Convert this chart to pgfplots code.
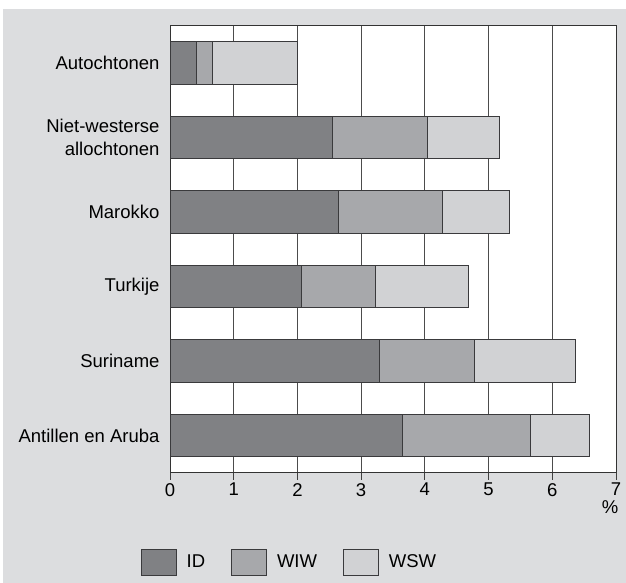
\documentclass[border=0pt]{standalone}
\usepackage{fontspec}
\setmainfont{Liberation Sans}
\usepackage{pgfplots}
\pgfplotsset{compat=1.18}
\definecolor{bg}{HTML}{DCDDDF}
\definecolor{cID}{HTML}{808184}
\definecolor{cWIW}{HTML}{A7A8AB}
\definecolor{cWSW}{HTML}{D1D2D4}
\definecolor{edge}{HTML}{3A3A3C}
\newcommand{\lbfont}{\fontsize{18.5}{23}\selectfont}
\begin{document}
\begin{tikzpicture}
\fill[white] (0pt,0pt) rectangle (626pt,583pt);
\fill[bg] (3pt,0pt) rectangle (626pt,574pt);
\begin{axis}[
  at={(170pt,110.3pt)}, anchor=south west,
  scale only axis, width=446pt, height=447pt,
  xmin=0, xmax=7, ymin=-0.5, ymax=5.5, y dir=reverse,
  xbar stacked, bar width=42.7pt,
  xtick={0,1,2,3,4,5,6,7}, ytick={0,1,2,3,4,5},
  xtick pos=lower, ytick pos=left,
  yticklabels={Autochtonen, {Niet-westerse\\allochtonen}, Marokko, Turkije, Suriname, Antillen en Aruba},
  yticklabel style={align=right},
  font=\lbfont,
  tick label style={font=\lbfont},
  /pgf/number format/assume math mode=true,
  tick align=outside, major tick length=7pt,
  ytick style={draw=none},
  xtick style={line width=0.8pt, draw=black!75},
  xmajorgrids, major grid style={line width=0.8pt, draw=black!70},
  axis line style={line width=0.8pt, draw=black!80},
  axis background/.style={fill=white},
  legend style={at={(0.268,-0.1998)}, anchor=center, draw=none, fill=none,
    legend columns=3, font=\lbfont,
    /tikz/every odd column/.append style={column sep=8pt},
    /tikz/every even column/.append style={column sep=24pt}},
]
\addplot[fill=cID, draw=edge, line width=0.8pt,
  legend image code/.code={\draw[fill=cID, draw=edge, line width=0.8pt] (0pt,-13pt) rectangle (35pt,13pt);}]
  coordinates {(0.42,0) (2.55,1) (2.65,2) (2.07,3) (3.29,4) (3.65,5)};
\addlegendentry{ID}
\addplot[fill=cWIW, draw=edge, line width=0.8pt,
  legend image code/.code={\draw[fill=cWIW, draw=edge, line width=0.8pt] (0pt,-13pt) rectangle (35pt,13pt);}]
  coordinates {(0.25,0) (1.49,1) (1.62,2) (1.16,3) (1.49,4) (2.00,5)};
\addlegendentry{WIW}
\addplot[fill=cWSW, draw=edge, line width=0.8pt,
  legend image code/.code={\draw[fill=cWSW, draw=edge, line width=0.8pt] (0pt,-13pt) rectangle (35pt,13pt);}]
  coordinates {(1.33,0) (1.13,1) (1.06,2) (1.45,3) (1.58,4) (0.94,5)};
\addlegendentry{WSW}
\end{axis}
\node[anchor=east, font=\lbfont, inner sep=0pt] at (618.5pt,76.3pt) {\%};
\end{tikzpicture}
\end{document}
